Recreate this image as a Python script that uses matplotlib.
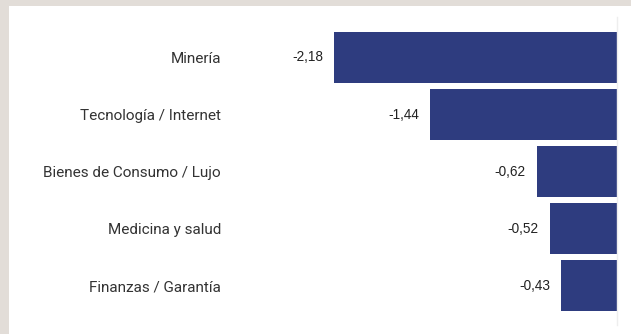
import matplotlib
matplotlib.use("Agg")
import matplotlib.pyplot as plt
from matplotlib.patches import Rectangle

# Variación por sector
sectores = [
    "Minería",
    "Tecnología / Internet",
    "Bienes de Consumo / Lujo",
    "Medicina y salud",
    "Finanzas / Garantía",
]
variacion = [-2.18, -1.44, -0.62, -0.52, -0.43]

W, H = 631, 334
fig = plt.figure(figsize=(W / 100, H / 100), dpi=100)
fig.patch.set_facecolor("#e2ddd8")
# panel blanco
fig.patches.append(Rectangle((9 / W, 0), 1, 1 - 6 / H, transform=fig.transFigure,
                             facecolor="white", edgecolor="none", zorder=-5))

ax = fig.add_axes([228 / W, (H - 325) / H, (617 - 228) / W, (325 - 17) / H])
ax.set_facecolor("none")

pos = list(range(len(sectores)))
ax.barh(pos, variacion, height=0.9, color="#2e3c7f")
for y, v in zip(pos, variacion):
    ax.text(v - 0.085, y, f"{v:.2f}".replace(".", ","), ha="right", va="center",
            fontsize=9.8, family="Liberation Sans", color="#222222")

ax.set_xlim(-3.0, 0)
ax.set_ylim(4.69, -0.71)
ax.set_yticks(pos)
ax.set_yticklabels(sectores, family="Roboto", fontsize=11, color="#333333")
ax.tick_params(axis="y", length=0, pad=5)
ax.set_xticks([])
for s in ["top", "left", "bottom"]:
    ax.spines[s].set_visible(False)
ax.spines["right"].set_color("#eeeeee")
ax.spines["right"].set_linewidth(1.0)

fig.savefig("out.png", dpi=100, facecolor=fig.get_facecolor())
